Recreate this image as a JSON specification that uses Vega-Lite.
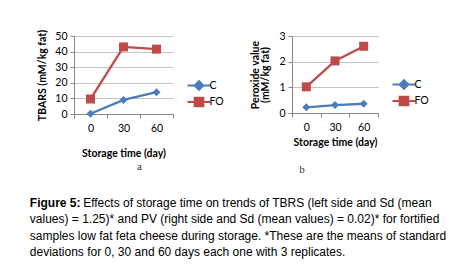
{
  "$schema": "https://vega.github.io/schema/vega-lite/v6.json",
  "background": "white",
  "padding": {"left": 29, "top": 29, "right": 2, "bottom": 2},
  "datasets": {
    "tbars": [
      {"day": 0, "series": "C", "value": 0.2},
      {"day": 30, "series": "C", "value": 9},
      {"day": 60, "series": "C", "value": 14},
      {"day": 0, "series": "FO", "value": 9.6},
      {"day": 30, "series": "FO", "value": 43},
      {"day": 60, "series": "FO", "value": 41.6}
    ],
    "pv": [
      {"day": 0, "series": "C", "value": 0.22},
      {"day": 30, "series": "C", "value": 0.31},
      {"day": 60, "series": "C", "value": 0.36},
      {"day": 0, "series": "FO", "value": 1.02},
      {"day": 30, "series": "FO", "value": 2.03},
      {"day": 60, "series": "FO", "value": 2.6}
    ]
  },
  "title": {
    "text": "Figure 5:",
    "subtitle": [
      "\u200b\u00a0\u00a0\u00a0\u00a0\u00a0\u00a0\u00a0\u00a0\u00a0\u00a0\u00a0\u00a0\u00a0\u00a0\u00a0\u00a0Effects of storage time on trends of TBRS (left side and Sd (mean",
      "values) = 1.25)* and PV (right side and Sd (mean values) = 0.02)* for fortified",
      "samples low fat feta cheese during storage. *These are the means of standard",
      "deviations for 0, 30 and 60 days each one with 3 replicates."
    ],
    "orient": "bottom",
    "anchor": "start",
    "font": "Liberation Sans",
    "fontSize": 12,
    "fontWeight": "bold",
    "color": "#000000",
    "subtitleFont": "Liberation Sans",
    "subtitleFontSize": 12,
    "subtitleFontWeight": "normal",
    "subtitleColor": "#000000",
    "subtitleLineHeight": 16.4,
    "subtitlePadding": -12,
    "offset": 23,
    "dx": -8
  },
  "spacing": 25,
  "resolve": {"scale": {"color": "independent"}, "legend": {"color": "independent"}},
  "hconcat": [
    {
      "data": {"name": "tbars"},
      "width": 99,
      "height": 78,
      "title": {"text": "a", "orient": "bottom", "font": "Liberation Serif", "fontSize": 11, "fontWeight": "normal", "color": "#333333", "offset": 2, "dx": 16},
      "encoding": {
        "x": {
          "field": "day", "type": "ordinal", "bandPosition": 0.5,
          "scale": {"type": "band", "paddingInner": 0, "paddingOuter": 0},
          "axis": {"title": "Storage time (day)", "labelAngle": 0, "tickBand": "extent", "grid": false, "tickSize": 4, "labelPadding": 5, "titlePadding": 15}
        },
        "y": {
          "field": "value", "type": "quantitative",
          "scale": {"domain": [0, 50], "nice": false},
          "axis": {"values": [0, 10, 20, 30, 40, 50], "title": "TBARS (mM/kg fat)", "grid": true, "tickSize": 4, "labelPadding": 3, "titlePadding": 7}
        },
        "color": {
          "field": "series", "type": "nominal",
          "scale": {"domain": ["C", "FO"], "range": ["#4a7ebb", "#be4b48"]},
          "legend": {
            "orient": "none", "legendX": 118.5, "legendY": 43, "title": null,
            "symbolSize": 100, "labelOffset": 4, "rowPadding": -2.5,
            "encode": {"symbols": {"update": {
              "shape": {"signal": "datum.value === 'C' ? 'M-2.3,0H2.3M0,-0.85L0.85,0L0,0.85L-0.85,0Z' : 'M-2.3,0H2.3M-0.85,-0.85H0.85V0.85H-0.85Z'"},
              "fill": {"signal": "datum.value === 'C' ? '#4a7ebb' : '#be4b48'"},
              "stroke": {"signal": "datum.value === 'C' ? '#4a7ebb' : '#be4b48'"},
              "strokeWidth": {"value": 2.2},
              "opacity": {"value": 1}
            }}}
          }
        }
      },
      "layer": [
        {"mark": {"type": "line", "strokeWidth": 2.3}},
        {
          "transform": [{"filter": "datum.series === 'C'"}],
          "mark": {"type": "point", "filled": true, "opacity": 1, "size": 100, "shape": "M0,-0.8L0.8,0L0,0.8L-0.8,0Z"}
        },
        {
          "transform": [{"filter": "datum.series === 'FO'"}],
          "mark": {"type": "point", "filled": true, "opacity": 1, "size": 100, "shape": "M-0.9,-0.9H0.9V0.9H-0.9Z"}
        }
      ]
    },
    {
      "data": {"name": "pv"},
      "width": 86,
      "height": 77,
      "title": {"text": "b", "orient": "bottom", "font": "Liberation Serif", "fontSize": 11, "fontWeight": "normal", "color": "#333333", "offset": 16, "dx": -33},
      "encoding": {
        "x": {
          "field": "day", "type": "ordinal", "bandPosition": 0.5,
          "scale": {"type": "band", "paddingInner": 0, "paddingOuter": 0},
          "axis": {"title": "Storage time (day)", "labelAngle": 0, "tickBand": "extent", "grid": false, "tickSize": 4, "labelPadding": 5, "titlePadding": 5}
        },
        "y": {
          "field": "value", "type": "quantitative",
          "scale": {"domain": [0, 3], "nice": false},
          "axis": {"values": [0, 1, 2, 3], "title": ["Peroxide value", "(mM/kg fat)"], "titleLineHeight": 10.5, "grid": true, "tickSize": 4, "labelPadding": 3, "titlePadding": 8}
        },
        "color": {
          "field": "series", "type": "nominal",
          "scale": {"domain": ["C", "FO"], "range": ["#4a7ebb", "#be4b48"]},
          "legend": {
            "orient": "none", "legendX": 105.5, "legendY": 42, "title": null,
            "symbolSize": 100, "labelOffset": 4, "rowPadding": -2.5,
            "encode": {"symbols": {"update": {
              "shape": {"signal": "datum.value === 'C' ? 'M-2.3,0H2.3M0,-0.85L0.85,0L0,0.85L-0.85,0Z' : 'M-2.3,0H2.3M-0.85,-0.85H0.85V0.85H-0.85Z'"},
              "fill": {"signal": "datum.value === 'C' ? '#4a7ebb' : '#be4b48'"},
              "stroke": {"signal": "datum.value === 'C' ? '#4a7ebb' : '#be4b48'"},
              "strokeWidth": {"value": 2.2},
              "opacity": {"value": 1}
            }}}
          }
        }
      },
      "layer": [
        {"mark": {"type": "line", "strokeWidth": 2.3}},
        {
          "transform": [{"filter": "datum.series === 'C'"}],
          "mark": {"type": "point", "filled": true, "opacity": 1, "size": 100, "shape": "M0,-0.8L0.8,0L0,0.8L-0.8,0Z"}
        },
        {
          "transform": [{"filter": "datum.series === 'FO'"}],
          "mark": {"type": "point", "filled": true, "opacity": 1, "size": 100, "shape": "M-0.9,-0.9H0.9V0.9H-0.9Z"}
        }
      ]
    }
  ],
  "config": {
    "font": "Lato",
    "view": {"stroke": null},
    "axis": {
      "labelFont": "Lato", "labelFontSize": 10.5, "labelColor": "#000000",
      "titleFont": "Lato", "titleFontSize": 10.5, "titleFontWeight": "bold", "titleColor": "#000000",
      "domainColor": "#868686", "tickColor": "#868686", "gridColor": "#c4c4c4", "gridOpacity": 1, "domainWidth": 1, "tickWidth": 1
    },
    "legend": {"labelFont": "Lato", "labelFontSize": 10.5, "labelColor": "#000000", "padding": 0}
  }
}
